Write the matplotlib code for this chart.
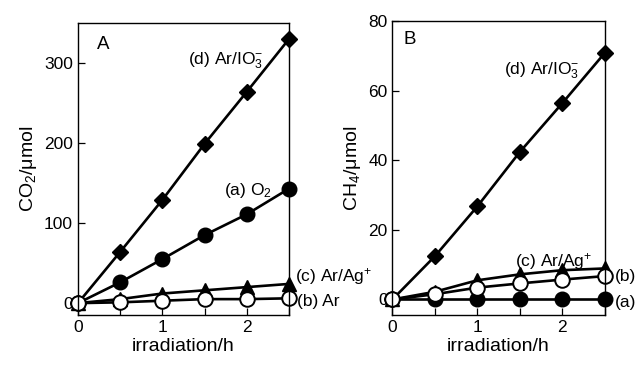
import matplotlib
matplotlib.use("Agg")
import matplotlib.pyplot as plt
from matplotlib.ticker import MultipleLocator

plt.rcParams['font.family'] = ['Liberation Sans', 'DejaVu Sans']
plt.rcParams['mathtext.fontset'] = 'custom'
plt.rcParams['mathtext.rm'] = 'Liberation Sans'
plt.rcParams['mathtext.it'] = 'Liberation Sans:italic'

hours = [0, 0.5, 1, 1.5, 2, 2.5]

# panel A: CO2
co2_a = [0, 26, 55, 85, 111, 143]
co2_b = [0, 1, 3, 5, 5, 6]
co2_c = [0, 5, 12, 16, 20, 24]
co2_d = [0, 64, 129, 199, 264, 330]

# panel B: CH4
ch4_a = [0, 0, 0, 0, 0, 0]
ch4_b = [0, 1.5, 3.4, 4.6, 5.7, 6.7]
ch4_c = [0, 2.2, 5.5, 7.2, 8.4, 8.9]
ch4_d = [0, 12.4, 26.7, 42.3, 56.3, 70.7]

fig = plt.figure(figsize=(6.35, 3.66), dpi=100)
axA = fig.add_axes([0.1228, 0.139, 0.3322, 0.798])
axB = fig.add_axes([0.618, 0.139, 0.334, 0.804])


def draw(ax, a, b, c, d):
    kw = dict(color='black', lw=1.9, clip_on=False)
    ax.plot(hours, d, marker='D', ms=8, **kw)
    ax.plot(hours, a, marker='o', ms=10.5, **kw)
    ax.plot(hours, c, marker='^', ms=9.5, **kw)
    ax.plot(hours, b, marker='o', ms=10.5, mfc='white', mec='black', mew=1.4, **kw)
    ax.set_xlim(0, 2.5)
    ax.xaxis.set_major_locator(MultipleLocator(1))
    ax.xaxis.set_minor_locator(MultipleLocator(0.5))
    ax.tick_params(which='both', direction='in', top=False, right=False,
                   labelsize=12.5, length=5, width=0.9)
    ax.set_xlabel('irradiation/h', fontsize=14, labelpad=2)
    for s in ax.spines.values():
        s.set_linewidth(1.0)


draw(axA, co2_a, co2_b, co2_c, co2_d)
axA.set_ylim(-15, 350)
axA.set_yticks([0, 100, 200, 300])
axA.set_ylabel('CO$_2$/μmol', fontsize=14, labelpad=4)
axA.text(0.09, 0.955, 'A', transform=axA.transAxes, fontsize=13.5, va='top')
axA.text(2.2, 303, '(d) Ar/IO$_3^{-}$', fontsize=12.5, ha='right', va='center')
axA.text(2.3, 141, '(a) O$_2$', fontsize=12.5, ha='right', va='center')
axA.text(2.57, 33, '(c) Ar/Ag$^{+}$', fontsize=12.5, ha='left', va='center', clip_on=False)
axA.text(2.59, 2, '(b) Ar', fontsize=12.5, ha='left', va='center', clip_on=False)

draw(axB, ch4_a, ch4_b, ch4_c, ch4_d)
axB.set_ylim(-4.5, 80)
axB.set_yticks([0, 20, 40, 60, 80])
axB.set_ylabel('CH$_4$/μmol', fontsize=14, labelpad=4)
axB.text(0.05, 0.966, 'B', transform=axB.transAxes, fontsize=13.5, va='top')
axB.text(2.2, 65.7, '(d) Ar/IO$_3^{-}$', fontsize=12.5, ha='right', va='center')
axB.text(1.45, 10.8, '(c) Ar/Ag$^{+}$', fontsize=12.5, ha='left', va='center')
axB.text(2.62, 6.5, '(b)', fontsize=12.5, ha='left', va='center', clip_on=False)
axB.text(2.62, -1, '(a)', fontsize=12.5, ha='left', va='center', clip_on=False)

fig.savefig('out.png', dpi=100)
